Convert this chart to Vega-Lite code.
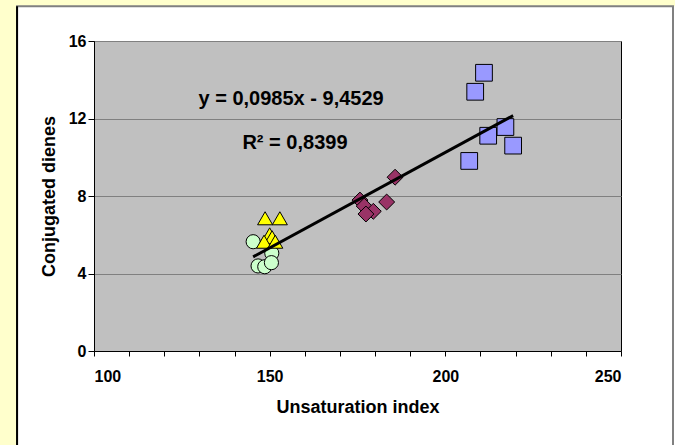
{
  "$schema": "https://vega.github.io/schema/vega-lite/v6.json",
  "width": 527,
  "height": 310,
  "autosize": {"type": "none"},
  "padding": {"left": 94, "top": 41, "right": 54, "bottom": 94},
  "background": "#FFFFFF",
  "config": {
    "view": {"stroke": "#000000", "strokeWidth": 1, "fill": "#C0C0C0"},
    "font": "Liberation Sans",
    "axis": {
      "domainColor": "#000000",
      "tickColor": "#000000",
      "labelFont": "Liberation Sans",
      "labelFontWeight": "bold",
      "labelFontSize": 16,
      "labelColor": "#000000",
      "labelOverlap": false,
      "titleFont": "Liberation Sans",
      "titleFontWeight": "bold",
      "titleFontSize": 18,
      "titleColor": "#000000"
    },
    "axisX": {"grid": false, "tickSize": 5, "labelPadding": 12, "titlePadding": 14},
    "axisY": {"grid": true, "gridColor": "#808080", "gridOpacity": 1, "gridWidth": 1, "tickSize": 6, "labelPadding": 2, "titlePadding": 10}
  },
  "data": {"values": [{"note": "frame"}]},
  "datasets": {
    "points": [
      {"series": "S1", "x": 145.3, "y": 5.64},
      {"series": "S1", "x": 150.6, "y": 5.05},
      {"series": "S1", "x": 146.7, "y": 4.39},
      {"series": "S1", "x": 148.6, "y": 4.35},
      {"series": "S1", "x": 150.5, "y": 4.56},
      {"series": "S2", "x": 148.7, "y": 6.85},
      {"series": "S2", "x": 152.9, "y": 6.85},
      {"series": "S2", "x": 150.0, "y": 6.02},
      {"series": "S2", "x": 150.7, "y": 5.87},
      {"series": "S2", "x": 148.4, "y": 5.64},
      {"series": "S2", "x": 151.6, "y": 5.64},
      {"series": "S3", "x": 185.7, "y": 8.97},
      {"series": "S3", "x": 175.7, "y": 7.79},
      {"series": "S3", "x": 176.9, "y": 7.48},
      {"series": "S3", "x": 183.3, "y": 7.69},
      {"series": "S3", "x": 179.5, "y": 7.21},
      {"series": "S3", "x": 177.4, "y": 7.07},
      {"series": "S4", "x": 211.0, "y": 14.36},
      {"series": "S4", "x": 208.5, "y": 13.38},
      {"series": "S4", "x": 217.1, "y": 11.56},
      {"series": "S4", "x": 212.2, "y": 11.11},
      {"series": "S4", "x": 219.3, "y": 10.6},
      {"series": "S4", "x": 206.8, "y": 9.81}
    ],
    "trend": [
      {"x": 145.3, "y": 4.86},
      {"x": 219.3, "y": 12.15}
    ]
  },
  "layer": [
    {
      "mark": {"type": "rect", "fill": "#FFFFCC"},
      "encoding": {
        "x": {"datum": 60, "type": "quantitative", "scale": {"domain": [100, 250], "nice": false, "zero": false},
          "axis": {"title": "Unsaturation index", "values": [100, 110, 120, 130, 140, 150, 160, 170, 180, 190, 200, 210, 220, 230, 240, 250], "labelExpr": "datum.value % 50 === 0 ? datum.label : ''"}},
        "x2": {"datum": 78.1},
        "y": {"datum": 20, "type": "quantitative", "scale": {"domain": [0, 16], "nice": false, "zero": false},
          "axis": {"title": "Conjugated dienes", "values": [0, 4, 8, 12, 16]}},
        "y2": {"datum": -8}
      }
    },
    {
      "mark": {"type": "rect", "fill": "#FFFFCC"},
      "encoding": {
        "x": {"datum": 60, "type": "quantitative",
          "axis": {"title": "Unsaturation index", "values": [100, 110, 120, 130, 140, 150, 160, 170, 180, 190, 200, 210, 220, 230, 240, 250], "labelExpr": "datum.value % 50 === 0 ? datum.label : ''"}},
        "x2": {"datum": 280},
        "y": {"datum": 20, "type": "quantitative",
          "axis": {"title": "Conjugated dienes", "values": [0, 4, 8, 12, 16]}},
        "y2": {"datum": 17.8}
      }
    },
    {
      "mark": {"type": "rect", "fill": null, "stroke": "#808080", "strokeWidth": 2},
      "encoding": {
        "x": {"datum": 78.1, "type": "quantitative",
          "axis": {"title": "Unsaturation index", "values": [100, 110, 120, 130, 140, 150, 160, 170, 180, 190, 200, 210, 220, 230, 240, 250], "labelExpr": "datum.value % 50 === 0 ? datum.label : ''"}},
        "x2": {"datum": 264.8},
        "y": {"datum": 17.8, "type": "quantitative",
          "axis": {"title": "Conjugated dienes", "values": [0, 4, 8, 12, 16]}},
        "y2": {"datum": -5.2}
      }
    },
    {
      "mark": {"type": "rule", "stroke": "#000000", "strokeWidth": 2},
      "encoding": {
        "x": {"datum": 78.1, "type": "quantitative",
          "axis": {"title": "Unsaturation index", "values": [100, 110, 120, 130, 140, 150, 160, 170, 180, 190, 200, 210, 220, 230, 240, 250], "labelExpr": "datum.value % 50 === 0 ? datum.label : ''"}},
        "y": {"datum": 17.8, "type": "quantitative",
          "axis": {"title": "Conjugated dienes", "values": [0, 4, 8, 12, 16]}},
        "y2": {"datum": -5.2}
      }
    },
    {
      "data": {"name": "points"},
      "mark": {"type": "point", "filled": true, "stroke": "#000000", "strokeWidth": 1, "opacity": 1},
      "encoding": {
        "x": {"field": "x", "type": "quantitative",
          "axis": {"title": "Unsaturation index", "values": [100, 110, 120, 130, 140, 150, 160, 170, 180, 190, 200, 210, 220, 230, 240, 250], "labelExpr": "datum.value % 50 === 0 ? datum.label : ''"}},
        "y": {"field": "y", "type": "quantitative",
          "axis": {"title": "Conjugated dienes", "values": [0, 4, 8, 12, 16]}},
        "shape": {
          "field": "series", "type": "nominal", "legend": null,
          "scale": {"domain": ["S1", "S2", "S3", "S4"], "range": ["circle", "triangle-up", "diamond", "square"]}
        },
        "fill": {
          "field": "series", "type": "nominal", "legend": null,
          "scale": {"domain": ["S1", "S2", "S3", "S4"], "range": ["#CCFFCC", "#FFFF00", "#993366", "#9999FF"]}
        },
        "size": {
          "field": "series", "type": "nominal", "legend": null,
          "scale": {"domain": ["S1", "S2", "S3", "S4"], "range": [200, 280, 300, 225]}
        }
      }
    },
    {
      "data": {"name": "trend"},
      "mark": {"type": "line", "color": "#000000", "strokeWidth": 3},
      "encoding": {
        "x": {"field": "x", "type": "quantitative",
          "axis": {"title": "Unsaturation index", "values": [100, 110, 120, 130, 140, 150, 160, 170, 180, 190, 200, 210, 220, 230, 240, 250], "labelExpr": "datum.value % 50 === 0 ? datum.label : ''"}},
        "y": {"field": "y", "type": "quantitative",
          "axis": {"title": "Conjugated dienes", "values": [0, 4, 8, 12, 16]}}
      }
    },
    {
      "mark": {"type": "text", "font": "Liberation Sans", "fontWeight": "bold", "fontSize": 20, "color": "#000000", "align": "center", "baseline": "middle"},
      "encoding": {
        "x": {"datum": 156.1, "type": "quantitative",
          "axis": {"title": "Unsaturation index", "values": [100, 110, 120, 130, 140, 150, 160, 170, 180, 190, 200, 210, 220, 230, 240, 250], "labelExpr": "datum.value % 50 === 0 ? datum.label : ''"}},
        "y": {"datum": 13.0, "type": "quantitative",
          "axis": {"title": "Conjugated dienes", "values": [0, 4, 8, 12, 16]}},
        "text": {"value": "y = 0,0985x - 9,4529"}
      }
    },
    {
      "mark": {"type": "text", "font": "Liberation Sans", "fontWeight": "bold", "fontSize": 20, "color": "#000000", "align": "center", "baseline": "middle"},
      "encoding": {
        "x": {"datum": 157.2, "type": "quantitative",
          "axis": {"title": "Unsaturation index", "values": [100, 110, 120, 130, 140, 150, 160, 170, 180, 190, 200, 210, 220, 230, 240, 250], "labelExpr": "datum.value % 50 === 0 ? datum.label : ''"}},
        "y": {"datum": 10.76, "type": "quantitative",
          "axis": {"title": "Conjugated dienes", "values": [0, 4, 8, 12, 16]}},
        "text": {"value": "R² = 0,8399"}
      }
    }
  ]
}
